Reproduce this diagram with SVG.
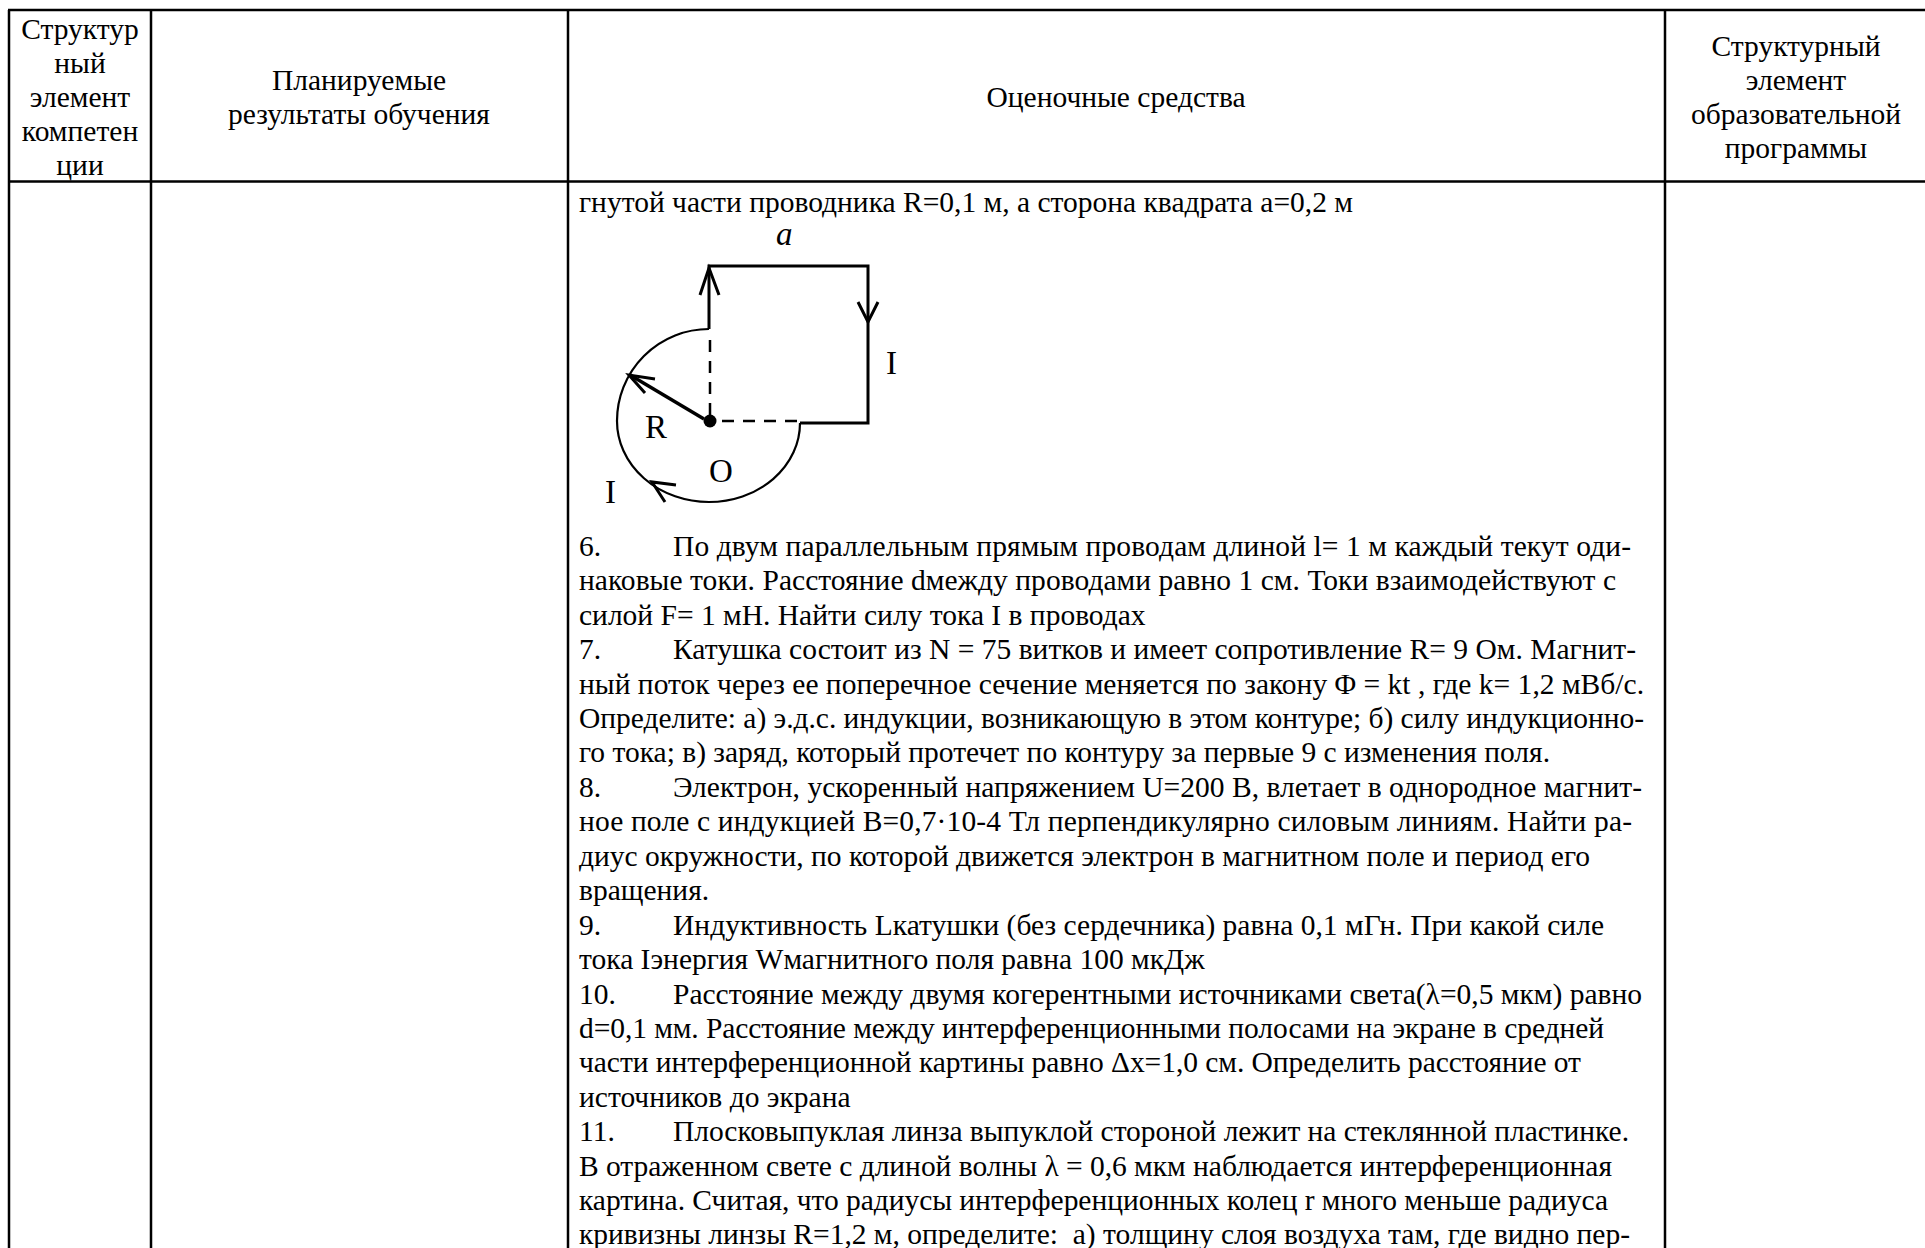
<svg xmlns="http://www.w3.org/2000/svg" width="1925" height="1248" viewBox="0 0 1925 1248">
<style>
text{font-family:"Liberation Serif","Times New Roman",serif;font-size:29.5px;fill:#000}
.c{text-anchor:middle}
.g{stroke:#000;fill:none}
.t{stroke:#000;stroke-width:2.5;fill:none}
.d{font-size:33px}
</style>
<rect width="1925" height="1248" fill="#fff"/>
<g id="table" class="t">
<path d="M8,10H1925M8,181.500H1925M9,10V1248M151,10V1248M568,10V1248M1665,10V1248"/>
</g>
<g id="header-1">
<text class="c" x="80" y="39">Структур</text>
<text class="c" x="80" y="73">ный</text>
<text class="c" x="80" y="107">элемент</text>
<text class="c" x="80" y="141">компетен</text>
<text class="c" x="80" y="175">ции</text>
</g>
<g id="header-2">
<text class="c" x="359" y="90">Планируемые</text>
<text class="c" x="359" y="124">результаты обучения</text>
</g>
<g id="header-3"><text class="c" x="1116" y="107">Оценочные средства</text></g>
<g id="header-4">
<text class="c" x="1796" y="56">Структурный</text>
<text class="c" x="1796" y="90">элемент</text>
<text class="c" x="1796" y="124">образовательной</text>
<text class="c" x="1796" y="158">программы</text>
</g>
<g id="figure">
<g class="g">
<path d="M709,329V266H868V423H800" stroke-width="3"/>
<path d="M709,329A92,92 0 0 0 617,421A92,81 0 0 0 709,502A91,79 0 0 0 800,423" stroke-width="2.200"/>
<path d="M710,340V418M722,421H800" stroke-dasharray="12,9" stroke-width="2.500"/>
<path d="M704,419L630,375" stroke-width="3.500"/>
<path d="M700,295L709,268L719,295M858,302L868,322L878,302" stroke-width="3"/>
<path d="M655,379L629,375L645,393M676,485L652,482L665,502" stroke-width="3"/>
</g>
<circle cx="710" cy="421" r="6.500" fill="#000"/>
<text class="d" x="776" y="245" font-style="italic">a</text>
<text class="d" x="886" y="374">I</text>
<text class="d" x="645" y="438">R</text>
<text class="d" x="709" y="482">O</text>
<text class="d" x="605" y="503">I</text>
</g>
<g id="content">
<text x="579" y="212">гнутой части проводника R=0,1 м, а сторона квадрата a=0,2 м</text>
<text x="579" y="556">6.</text><text x="673" y="556" textLength="958">По двум параллельным прямым проводам длиной l= 1 м каждый текут оди-</text>
<text x="579" y="590" textLength="1037">наковые токи. Расстояние dмежду проводами равно 1 см. Токи взаимодействуют с</text>
<text x="579" y="625">силой F= 1 мН. Найти силу тока I в проводах</text>
<text x="579" y="659">7.</text><text x="673" y="659" textLength="963">Катушка состоит из N = 75 витков и имеет сопротивление R= 9 Ом. Магнит-</text>
<text x="579" y="694" textLength="1065">ный поток через ее поперечное сечение меняется по закону Φ = kt , где k= 1,2 мВб/с.</text>
<text x="579" y="728" textLength="1065">Определите: а) э.д.с. индукции, возникающую в этом контуре; б) силу индукционно-</text>
<text x="579" y="762" textLength="971">го тока; в) заряд, который протечет по контуру за первые 9 с изменения поля.</text>
<text x="579" y="797">8.</text><text x="673" y="797" textLength="969">Электрон, ускоренный напряжением U=200 В, влетает в однородное магнит-</text>
<text x="579" y="831" textLength="1053">ное поле с индукцией В=0,7·10-4 Тл перпендикулярно силовым линиям. Найти ра-</text>
<text x="579" y="866" textLength="1011">диус окружности, по которой движется электрон в магнитном поле и период его</text>
<text x="579" y="900">вращения.</text>
<text x="579" y="935">9.</text><text x="673" y="935" textLength="931">Индуктивность Lкатушки (без сердечника) равна 0,1 мГн. При какой силе</text>
<text x="579" y="969">тока Iэнергия Wмагнитного поля равна 100 мкДж</text>
<text x="579" y="1004">10.</text><text x="673" y="1004" textLength="969">Расстояние между двумя когерентными источниками света(λ=0,5 мкм) равно</text>
<text x="579" y="1038" textLength="1025">d=0,1 мм. Расстояние между интерференционными полосами на экране в средней</text>
<text x="579" y="1072" textLength="1002">части интерференционной картины равно Δx=1,0 см. Определить расстояние от</text>
<text x="579" y="1107">источников до экрана</text>
<text x="579" y="1141">11.</text><text x="673" y="1141" textLength="956">Плосковыпуклая линза выпуклой стороной лежит на стеклянной пластинке.</text>
<text x="579" y="1176" textLength="1033">В отраженном свете с длиной волны λ = 0,6 мкм наблюдается интерференционная</text>
<text x="579" y="1210" textLength="1029">картина. Считая, что радиусы интерференционных колец r много меньше радиуса</text>
<text x="579" y="1244" textLength="1051" xml:space="preserve">кривизны линзы R=1,2 м, определите:  а) толщину слоя воздуха там, где видно пер-</text>
</g>
</svg>
